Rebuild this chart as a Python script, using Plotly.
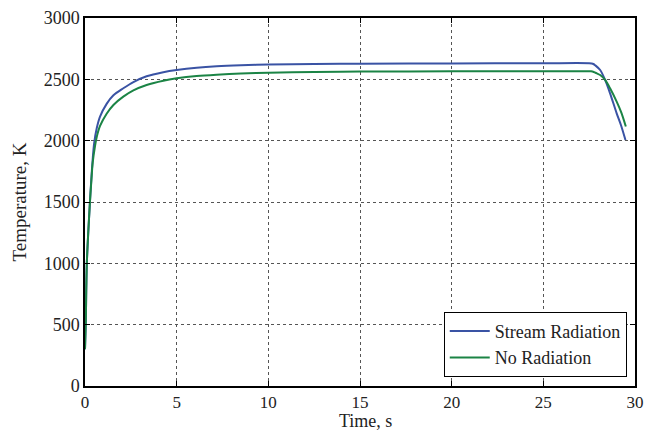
import plotly.graph_objects as go

t_stream = [0, 0.04, 0.1, 0.27, 0.35, 0.42, 0.5, 0.64, 0.82, 1.18, 1.55, 2.09, 2.64, 3.36, 4.27, 5.0, 6.09, 7.18, 8.5, 10.0, 12.5, 15.0, 20.0, 25.0, 27.5, 27.73, 27.85, 28.1, 28.37, 28.64, 29.0, 29.25, 29.48]
T_stream = [300, 500, 1000, 1500, 1700, 1850, 1980, 2101, 2196, 2300, 2370, 2427, 2478, 2525, 2558, 2576, 2595, 2607, 2615, 2620, 2625, 2628, 2630, 2631, 2631, 2625, 2612, 2576, 2495, 2386, 2223, 2120, 2005]

t_norad = [0, 0.04, 0.1, 0.27, 0.35, 0.42, 0.55, 0.64, 0.82, 1.18, 1.55, 2.09, 2.64, 3.36, 4.27, 5.0, 6.09, 7.18, 8.5, 10.0, 12.5, 15.0, 20.0, 25.0, 27.6, 27.75, 27.9, 28.1, 28.37, 28.64, 29.0, 29.25, 29.5]
T_norad = [300, 500, 1000, 1500, 1680, 1820, 1960, 2030, 2120, 2220, 2291, 2359, 2410, 2454, 2489, 2508, 2527, 2538, 2547, 2554, 2559, 2563, 2565, 2565, 2565, 2560, 2550, 2535, 2495, 2427, 2318, 2230, 2115]

x_ticks = [0, 5, 10, 15, 20, 25, 30]
y_ticks = [0, 500, 1000, 1500, 2000, 2500, 3000]

x_title = "Time, s"
y_title = "Temperature, K"

SERIF = "Liberation Serif"
W, H = 647, 431
ML, MR, MT, MB = 85, 12, 18, 45

fig = go.Figure()
fig.add_trace(go.Scatter(x=t_stream, y=T_stream, mode="lines", name="Stream Radiation",
                         line=dict(color="#3a53a4", width=2, shape="spline", smoothing=0.8)))
fig.add_trace(go.Scatter(x=t_norad, y=T_norad, mode="lines", name="No Radiation",
                         line=dict(color="#1b8445", width=2, shape="spline", smoothing=0.8)))

axis_common = dict(showline=True, linecolor="black", linewidth=1.5, mirror="ticks",
                   ticks="inside", ticklen=5, tickcolor="black", automargin=False,
                   showgrid=True, gridcolor="#555555", griddash="dot", gridwidth=1,
                   zeroline=False, tickfont=dict(family=SERIF, size=18, color="#222"))

fig.update_xaxes(range=[0, 30], tickvals=x_ticks, **axis_common)
fig.update_xaxes(tickfont=dict(size=17))
fig.update_yaxes(range=[0, 3000], tickvals=y_ticks,
                 title=dict(text=y_title, font=dict(family=SERIF, size=19, color="#222"), standoff=12),
                 **axis_common)

plot_h = H - MT - MB
fig.add_annotation(text=x_title, xref="paper", yref="paper", x=0.51, y=-(MB + 1) / plot_h,
                   xanchor="center", yanchor="bottom", showarrow=False,
                   font=dict(family=SERIF, size=18, color="#222"), borderpad=0)

fig.update_layout(
    width=W, height=H,
    margin=dict(l=ML, r=MR, t=MT, b=MB),
    plot_bgcolor="white", paper_bgcolor="white",
    font=dict(family=SERIF, color="#222"),
    legend=dict(x=0.985, y=0.025, xanchor="right", yanchor="bottom",
                bgcolor="white", bordercolor="black", borderwidth=1,
                font=dict(family=SERIF, size=18, color="#222"),
                tracegroupgap=0, itemwidth=40),
)

fig.write_html("out.html")
